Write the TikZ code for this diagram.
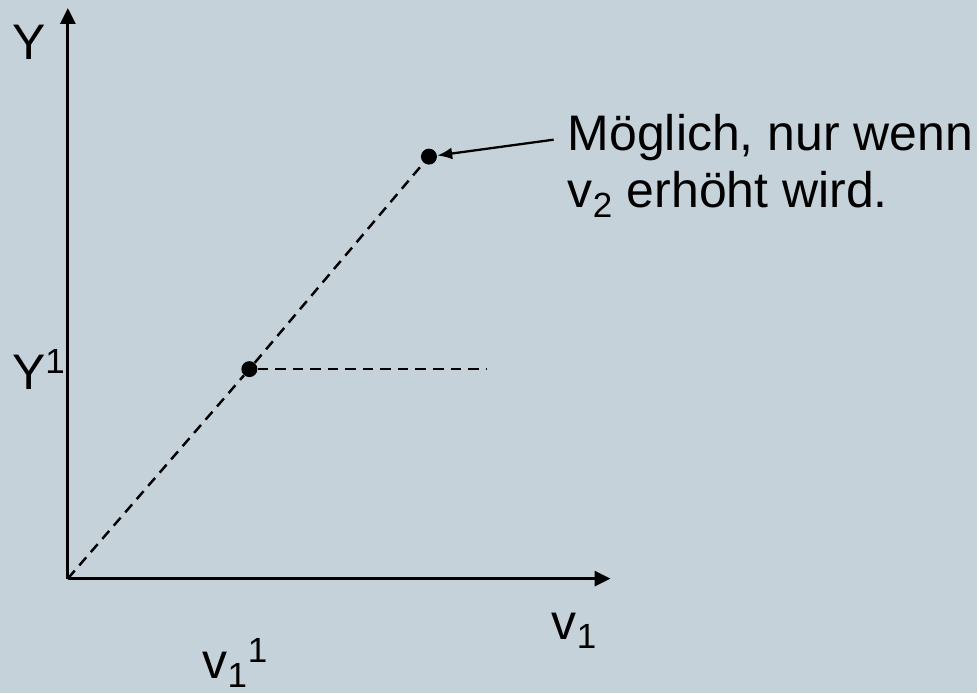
\documentclass[tikz,border=0pt]{standalone}
\usepackage{fontspec}
\setmainfont{Liberation Sans}
\usetikzlibrary{arrows.meta,positioning}
\definecolor{bg}{HTML}{C6D2D9}

\begin{document}
\begin{tikzpicture}[x=0.02cm,y=-0.02cm,font=\fontsize{28.5}{33}\selectfont]
\fill[bg] (0,0) rectangle (979,695);
\coordinate (o) at (68,580);
\coordinate (ytop) at (68,8);
\coordinate (xend) at (612,580);
\coordinate (h) at (487,370);
\coordinate (a) at (555,140);
\node[circle,fill,inner sep=0pt,minimum size=0.32cm] (p1) at (250,370) {};
\node[circle,fill,inner sep=0pt,minimum size=0.32cm] (p2) at (430,157) {};
\draw[line width=1.7pt,-{Triangle[length=0.32cm,width=0.3cm]}] (o) -- (ytop);
\draw[line width=1.7pt,-{Triangle[length=0.32cm,width=0.3cm]}] (o) -- (xend);
\draw[line width=1.4pt,dash pattern=on 6pt off 4pt] (o) -- (p1) -- (p2);
\draw[line width=1.4pt,dash pattern=on 6pt off 4pt] (p1) -- (h);
\draw[line width=1.3pt,-{Latex[length=0.3cm,width=0.24cm]}] (a) -- (p2);
\node (ylab) at (29,42) {Y};
\node (y1lab) at (39,370) {Y\textsuperscript{1}};
\node (v11lab) at (236,665) {v\textsubscript{1}\textsuperscript{1}};
\node (v1lab) at (576,632) {v\textsubscript{1}};
\node[anchor=west,align=left] (txt) at (563,166) {Möglich, nur wenn\\v\textsubscript{2} erhöht wird.};
\end{tikzpicture}
\end{document}
